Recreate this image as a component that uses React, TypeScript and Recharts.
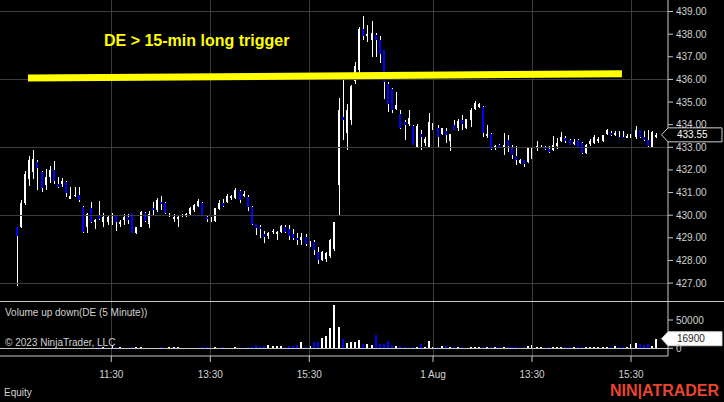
import { Bar, ComposedChart, ReferenceDot, ReferenceLine, XAxis, YAxis } from 'recharts';

// DE 5-minute bars, [open, high, low, close], 09:35 .. 16:00
const JUL31_OHLC: [number, number, number, number][] = [
  [429.46, 429.48, 426.88, 429.07], [429.46, 430.66, 429.42, 430.52], [430.52, 431.96, 430.45, 431.84],
  [431.62, 432.62, 431.28, 432.43], [431.9, 432.87, 431.6, 432.5], [432.34, 432.42, 431.13, 432.09],
  [431.91, 431.95, 431.03, 431.18], [431.32, 432.06, 431.1, 431.69], [431.69, 432.16, 431.43, 431.99],
  [431.99, 432.38, 431.4, 431.5], [431.4, 431.7, 431.22, 431.25], [431.4, 431.65, 431.25, 431.5],
  [431.47, 431.52, 430.8, 430.98], [430.71, 431.25, 430.7, 430.84], [430.86, 431.25, 430.8, 430.9],
  [430.88, 431.25, 430.59, 430.66], [430.37, 430.4, 429.2, 429.26], [429.5, 430.1, 429.22, 430.05],
  [430.31, 430.6, 429.66, 429.7], [429.7, 429.84, 429.4, 429.8], [430.0, 430.62, 429.8, 429.82],
  [429.7, 430.1, 429.48, 429.9], [429.7, 429.95, 429.55, 429.92], [429.8, 430.1, 429.55, 430.0],
  [429.96, 430.0, 429.3, 429.68], [429.6, 429.78, 429.48, 429.7], [429.8, 430.05, 429.55, 429.9],
  [429.9, 430.05, 429.6, 429.78], [430.08, 430.1, 429.2, 429.22], [429.2, 429.5, 429.15, 429.48],
  [429.5, 430.18, 429.48, 430.15], [430.08, 430.15, 429.7, 429.75], [429.6, 430.2, 429.45, 430.05],
  [430.32, 430.6, 430.0, 430.25], [430.22, 430.75, 430.15, 430.69], [430.57, 430.85, 430.25, 430.49],
  [430.54, 430.6, 430.05, 430.08], [429.98, 430.1, 429.93, 430.02], [429.85, 430.04, 429.7, 429.9],
  [429.85, 429.97, 429.46, 429.92], [429.95, 430.05, 429.9, 430.0], [429.95, 430.1, 429.9, 430.05],
  [430.05, 430.37, 430.03, 430.3], [430.22, 430.5, 430.15, 430.44], [430.4, 430.7, 430.37, 430.62],
  [430.52, 430.58, 429.95, 429.99], [429.9, 430.0, 429.72, 429.82], [429.8, 429.93, 429.7, 429.85],
  [429.75, 430.32, 429.72, 430.3], [430.28, 430.66, 430.25, 430.56], [430.54, 430.7, 430.35, 430.42],
  [430.6, 430.93, 430.56, 430.85], [430.75, 430.9, 430.65, 430.85], [430.76, 431.22, 430.72, 431.1],
  [431.06, 431.12, 430.55, 430.66], [430.85, 431.05, 430.8, 430.95], [430.81, 430.9, 430.18, 430.37],
  [430.37, 430.4, 429.55, 429.59], [429.6, 429.62, 429.12, 429.45], [429.48, 429.55, 429.0, 429.37],
  [429.19, 429.3, 428.75, 429.04], [429.1, 429.25, 428.93, 429.2], [429.25, 429.4, 429.15, 429.3],
  [429.15, 429.3, 428.9, 429.25], [429.24, 429.55, 429.2, 429.53], [429.48, 429.55, 429.2, 429.26],
  [429.4, 429.55, 428.9, 429.1], [429.15, 429.4, 428.9, 429.0], [429.0, 429.22, 428.68, 428.9],
  [428.9, 429.2, 428.68, 429.04], [429.04, 429.15, 428.65, 428.72], [428.7, 428.85, 428.6, 428.8],
  [428.82, 428.9, 428.24, 428.46], [428.38, 428.6, 427.86, 428.02], [428.02, 428.4, 427.98, 428.38],
  [428.05, 428.38, 427.94, 428.35], [428.2, 428.95, 428.1, 428.9], [428.5, 429.72, 428.4, 429.68],
];

const AUG1_OHLC: [number, number, number, number][] = [
  [431.32, 435.19, 430.0, 434.63], [434.34, 435.96, 433.31, 434.19], [433.63, 434.93, 432.87, 434.63],
  [434.19, 435.75, 434.0, 435.69], [435.95, 436.76, 435.8, 436.6], [436.43, 438.3, 436.2, 438.24],
  [438.24, 438.78, 437.75, 437.9], [437.9, 438.4, 437.65, 438.0], [437.75, 438.56, 437.0, 438.05],
  [437.98, 438.05, 437.0, 437.72], [437.72, 437.9, 436.72, 437.13], [437.28, 437.3, 435.15, 435.88],
  [435.8, 435.88, 434.56, 434.93], [435.59, 435.62, 434.5, 434.66], [434.7, 435.44, 434.63, 434.85],
  [434.49, 434.65, 433.82, 433.87], [434.12, 434.19, 433.31, 433.97], [434.05, 434.66, 433.95, 434.3],
  [433.93, 434.0, 433.09, 433.1], [433.01, 434.05, 433.0, 433.95], [433.6, 433.75, 432.9, 433.45],
  [433.2, 433.45, 433.05, 433.35], [433.01, 434.5, 433.0, 434.1], [433.75, 434.12, 433.4, 434.09],
  [433.87, 434.0, 432.98, 433.45], [433.6, 433.87, 433.55, 433.85], [433.71, 433.87, 433.2, 433.53],
  [433.28, 433.6, 432.82, 433.57], [434.0, 434.2, 433.75, 433.78], [433.85, 434.25, 433.7, 434.15],
  [434.22, 434.41, 433.78, 434.01], [433.85, 434.27, 433.82, 434.25], [434.19, 434.73, 433.9, 434.66],
  [434.7, 435.03, 434.66, 434.95], [434.8, 434.95, 434.75, 434.9], [434.78, 434.82, 433.45, 433.63],
  [433.5, 433.97, 433.41, 433.6], [433.57, 433.62, 432.9, 432.94], [433.0, 433.09, 432.87, 433.05],
  [433.1, 433.15, 432.95, 433.0], [433.0, 433.63, 432.65, 433.1], [433.31, 433.55, 432.8, 433.04],
  [432.99, 433.08, 432.5, 432.65], [432.6, 433.04, 432.21, 432.43], [432.3, 432.5, 432.25, 432.45],
  [432.43, 432.45, 432.15, 432.25], [432.35, 433.0, 432.3, 432.99], [432.5, 433.05, 432.4, 432.95],
  [432.95, 433.3, 432.85, 433.05], [433.0, 433.1, 432.95, 433.02], [433.01, 433.05, 432.88, 432.91],
  [432.94, 433.05, 432.77, 432.8], [432.9, 433.5, 432.85, 433.09], [433.05, 433.41, 432.94, 433.2],
  [433.3, 433.68, 433.23, 433.45], [433.41, 433.5, 433.2, 433.26], [433.31, 433.35, 433.1, 433.12],
  [433.15, 433.35, 433.1, 433.25], [433.31, 433.35, 432.98, 433.01], [433.21, 433.25, 432.72, 432.77],
  [432.77, 433.15, 432.72, 433.09], [433.15, 433.38, 433.06, 433.3], [433.2, 433.53, 433.16, 433.45],
  [433.3, 433.45, 433.2, 433.38], [433.26, 433.55, 433.22, 433.53], [433.6, 433.82, 433.53, 433.75],
  [433.65, 433.73, 433.48, 433.56], [433.55, 433.73, 433.5, 433.65], [433.46, 433.7, 433.4, 433.43],
  [433.45, 433.7, 433.42, 433.43], [433.43, 433.6, 433.4, 433.48], [433.4, 433.7, 433.38, 433.6],
  [433.45, 433.93, 433.38, 433.75], [433.75, 433.78, 433.4, 433.45], [433.45, 433.7, 433.28, 433.31],
  [433.31, 433.75, 432.95, 433.06], [433.01, 433.7, 432.98, 433.68], [433.45, 433.65, 433.4, 433.55],
];

const JUL31_VOLUME = [
  0, 0, 0, 0, 0, 0, 0, 0, 0, 0, 0, 0, 0, 0, 0, 0, 0, 0, 0, 0,
  2800, 2800, 1200, 4600, 1500, 1800, 1200, 1200, 2900, 1500,
  1500, 1200, 1200, 1200, 1200, 1800, 1200, 2300, 2000, 2000,
  1200, 1200, 1200, 1200, 1200, 2000, 2000, 1200, 2000, 1200,
  2000, 1200, 1200, 2000, 1200, 1200, 1500, 2900, 5900, 2000,
  4700, 5900, 3500, 3500, 3500, 1500, 3500, 3500, 5300, 11700,
  2000, 4700, 10600, 10600, 18800, 22300, 36400, 76500,
];

const AUG1_VOLUME = [
  37000, 16400, 9900, 10300, 11000, 14700, 7600, 7000, 6500, 23500,
  7000, 8200, 12900, 6500, 4100, 4100, 2900, 1200, 2900, 2900,
  7000, 2900, 12900, 1500, 1800, 3500, 4100, 1800, 2300, 1700,
  1700, 1200, 2900, 2500, 2500, 2900, 1700, 2300, 1700, 1700,
  2300, 2300, 2300, 2300, 1200, 1700, 4700, 5900, 1700, 1700,
  1200, 1700, 2300, 2300, 2300, 2900, 1700, 2300, 1700, 2300,
  1700, 2300, 2300, 1700, 2900, 2900, 1700, 4700, 2900, 2300,
  2300, 7000, 10000, 7000, 5900, 7000, 4100, 16900,
];

// bar index of each time label
const TIME_TICKS = [23, 47, 71, 101, 125, 149];
const TIME_LABELS = ['11:30', '13:30', '15:30', '1 Aug', '13:30', '15:30'];
const PRICE_TICKS = [427, 428, 429, 430, 431, 432, 433, 434, 435, 436, 437, 438, 439];
const PRICE_GRID = [427, 430, 433, 436, 439];
const VOLUME_TICKS = [0, 50000];
// hand-drawn trigger line: [bar index, price]
const TRIGGER_LINE = [
  { bar: 2.8, price: 436.06 },
  { bar: 146.8, price: 436.25 },
];

const bars = [...JUL31_OHLC, ...AUG1_OHLC].map(([open, high, low, close], i) => ({
  i,
  open,
  high,
  low,
  close,
  volume: [...JUL31_VOLUME, ...AUG1_VOLUME][i],
}));
const last = bars[bars.length - 1];

const X_DOMAIN: [number, number] = [-3.98, 157.97];
const PRICE_DOMAIN: [number, number] = [426.208, 439.509];
const VOLUME_DOMAIN: [number, number] = [-13600, 81800];

const FONT = 'Arial, "Liberation Sans", sans-serif';
const AXIS = '#c8c8c8';
const GRID = '#3c3c3c';
const TEXT = '#d2d2d2';
const UP = '#ffffff';
const DOWN = '#0000ff';

function Candle(props: any) {
  const { x, y, width, height, payload } = props;
  if (!payload) return null;
  const { open, close, high, low } = payload;
  const top = Math.min(y, y + height);
  const h = Math.abs(height);
  const k = high > low ? h / (high - low) : 22.6;
  const py = (p: number) => top + (high - p) * k;
  const cx = Math.round(x + width / 2);
  const bTop = py(Math.max(open, close));
  const bH = Math.max(1, py(Math.min(open, close)) - bTop);
  return (
    <g shapeRendering="crispEdges">
      <rect x={cx} y={top} width={1} height={Math.max(1, h)} fill={UP} />
      <rect x={cx - 1} y={bTop} width={2} height={bH} fill={close >= open ? UP : DOWN} />
    </g>
  );
}

function VolumeBar(props: any) {
  const { x, y, width, height, payload } = props;
  const h = Math.abs(height);
  if (!payload || h < 0.5) return null;
  const top = Math.min(y, y + height);
  const cx = Math.round(x + width / 2);
  return (
    <rect
      x={cx - 1}
      y={top}
      width={2}
      height={h}
      fill={payload.close >= payload.open ? UP : DOWN}
      shapeRendering="crispEdges"
    />
  );
}

function Flag({ cx, cy, text, fill, stroke, color }: any) {
  return (
    <g>
      <polygon
        points={`${cx - 6.5},${cy} ${cx},${cy - 7} ${cx + 54},${cy - 7} ${cx + 54},${cy + 7} ${cx},${cy + 7}`}
        fill={fill}
        stroke={stroke}
        strokeWidth={1}
      />
      <text x={cx + 9} y={cy} dy="0.36em" fontSize={10} fontFamily={FONT} fill={color}>
        {text}
      </text>
    </g>
  );
}

const label = (left: number, top: number, text: string, extra: any = {}) => (
  <div
    style={{
      position: 'absolute',
      left,
      top,
      fontSize: 10,
      lineHeight: '12px',
      color: TEXT,
      whiteSpace: 'nowrap',
      ...extra,
    }}
  >
    {text}
  </div>
);

export default function App() {
  return (
    <div
      style={{
        position: 'fixed',
        left: 0,
        top: 0,
        width: 724,
        height: 402,
        background: '#000',
        overflow: 'hidden',
        fontFamily: FONT,
      }}
    >
      <div style={{ position: 'absolute', left: 0, top: 0 }}>
        <ComposedChart width={724} height={301} data={bars} margin={{ top: 0, right: 0, bottom: 0, left: 0 }}>
          <XAxis dataKey="i" type="number" domain={X_DOMAIN} allowDataOverflow hide />
          <YAxis
            orientation="right"
            width={56}
            type="number"
            domain={PRICE_DOMAIN}
            allowDataOverflow
            ticks={PRICE_TICKS}
            interval={0}
            tickFormatter={(v: number) => v.toFixed(2)}
            axisLine={{ stroke: AXIS }}
            tickLine={{ stroke: AXIS }}
            tickSize={5}
            tickMargin={3}
            tick={{ fill: TEXT, fontSize: 10, fontFamily: FONT }}
          />
          {PRICE_GRID.map((p) => (
            <ReferenceLine key={`h${p}`} y={p} stroke={GRID} shapeRendering="crispEdges" />
          ))}
          {TIME_TICKS.map((t) => (
            <ReferenceLine key={`v${t}`} x={t} stroke={GRID} shapeRendering="crispEdges" />
          ))}
          <Bar
            dataKey={(d: any) => [d.low, d.high]}
            barSize={3}
            shape={<Candle />}
            isAnimationActive={false}
          />
          <ReferenceLine
            segment={TRIGGER_LINE.map((p) => ({ x: p.bar, y: p.price }))}
            stroke="#ffff00"
            strokeWidth={7}
          />
          <ReferenceDot
            x={X_DOMAIN[1]}
            y={last.close}
            ifOverflow="visible"
            shape={(p: any) => (
              <Flag cx={p.cx} cy={p.cy} text={last.close.toFixed(2)} fill="#000" stroke="#d0d0d0" color="#fff" />
            )}
          />
        </ComposedChart>
      </div>

      <div style={{ position: 'absolute', left: 0, top: 301, width: 724, height: 1, background: AXIS }} />

      <div style={{ position: 'absolute', left: 0, top: 302 }}>
        <ComposedChart width={724} height={100} data={bars} margin={{ top: 0, right: 0, bottom: 0, left: 0 }}>
          <XAxis
            dataKey="i"
            type="number"
            domain={X_DOMAIN}
            allowDataOverflow
            height={46}
            ticks={TIME_TICKS}
            interval={0}
            tickFormatter={(v: number) => TIME_LABELS[TIME_TICKS.indexOf(v)] ?? ''}
            axisLine={{ stroke: AXIS }}
            tickLine={{ stroke: AXIS }}
            tickSize={6}
            tickMargin={9}
            tick={{ fill: TEXT, fontSize: 10, fontFamily: FONT }}
          />
          <YAxis
            orientation="right"
            width={56}
            type="number"
            domain={VOLUME_DOMAIN}
            allowDataOverflow
            ticks={VOLUME_TICKS}
            interval={0}
            axisLine={{ stroke: AXIS }}
            tickLine={{ stroke: AXIS }}
            tickSize={5}
            tickMargin={3}
            tick={{ fill: TEXT, fontSize: 10, fontFamily: FONT }}
          />
          {TIME_TICKS.map((t) => (
            <ReferenceLine key={`vv${t}`} x={t} stroke={GRID} shapeRendering="crispEdges" />
          ))}
          <ReferenceLine y={0} stroke={AXIS} shapeRendering="crispEdges" />
          <Bar
            dataKey={(d: any) => [0, d.volume]}
            barSize={3}
            shape={<VolumeBar />}
            isAnimationActive={false}
          />
          <ReferenceDot
            x={X_DOMAIN[1]}
            y={last.volume}
            ifOverflow="visible"
            shape={(p: any) => (
              <Flag cx={p.cx} cy={p.cy} text={String(last.volume)} fill="#fff" stroke="#d0d0d0" color="#222" />
            )}
          />
        </ComposedChart>
      </div>

      <div
        style={{
          position: 'absolute',
          left: 104,
          top: 32,
          fontSize: 16,
          lineHeight: '18px',
          fontWeight: 'bold',
          color: '#ffff00',
          whiteSpace: 'nowrap',
        }}
      >
        DE &gt; 15-min long trigger
      </div>
      {label(5, 307, 'Volume up down(DE (5 Minute))')}
      {label(5, 337, '© 2023 NinjaTrader, LLC')}
      {label(4, 387, 'Equity')}
      <div
        style={{
          position: 'absolute',
          left: 610,
          top: 382,
          fontSize: 16,
          lineHeight: '18px',
          fontWeight: 'bold',
          color: '#e8452c',
          whiteSpace: 'nowrap',
        }}
      >
        NIN|ATRADER
      </div>
    </div>
  );
}
